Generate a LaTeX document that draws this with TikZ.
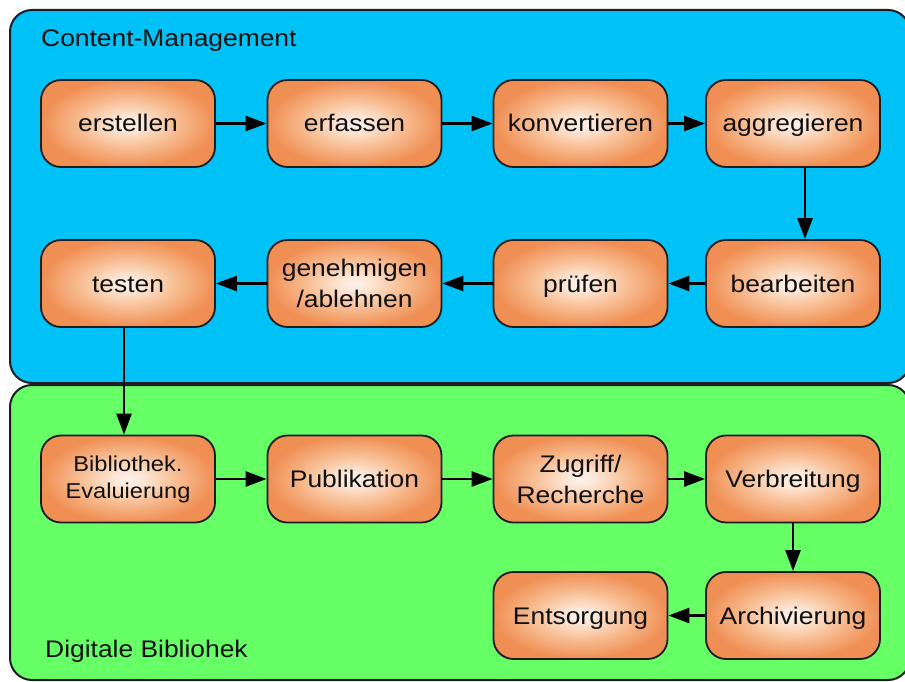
\documentclass[tikz,border=0pt]{standalone}
\usepackage{fontspec}
\setmainfont{Liberation Sans}[FakeStretch=1.1]
\usetikzlibrary{arrows.meta}

\definecolor{cmblue}{RGB}{0,194,246}
\definecolor{dlgreen}{RGB}{102,255,102}
\definecolor{edge}{RGB}{28,28,36}
\definecolor{ink}{RGB}{16,16,16}

% soft orange glow, light in the middle of each step box
\pgfdeclareradialshading{boxglow}{\pgfpoint{0bp}{0bp}}{%
  rgb(0bp)=(0.99,0.95,0.92);
  rgb(4bp)=(0.99,0.91,0.85);
  rgb(14bp)=(0.97,0.74,0.57);
  rgb(25bp)=(0.94,0.56,0.33);
  rgb(50bp)=(0.94,0.56,0.33)}

\tikzset{
  panel/.style={draw=edge, line width=2pt, rounded corners=22pt},
  paneltitle/.style={anchor=base west, inner sep=0pt, text=ink,
    font=\fontsize{24}{28}\selectfont},
  stepbox/.style={draw=edge, line width=1.8pt, rounded corners=20pt,
    shading=boxglow, minimum width=174pt, minimum height=87pt,
    inner sep=0pt, align=center, text=ink,
    font=\fontsize{24}{31}\selectfont},
  oneline/.style={stepbox, text height=17pt, text depth=0pt},
  flow/.style={draw=black, line width=2.6pt,
    -{Triangle[length=21pt,width=15pt]}},
}

\begin{document}
\begin{tikzpicture}[x=1pt, y=-1pt]
  \useasboundingbox (0,0) rectangle (905,682);
  \fill[white] (0,0) rectangle (905,682);

  % the two areas
  \draw[panel, fill=cmblue] (10,10) rectangle (910,383);
  \draw[panel, fill=dlgreen] (10,385) rectangle (910,680);
  \node[paneltitle] (cmtitle) at (41,47) {Content-Management};
  \node[paneltitle] (dltitle) at (45,657) {Digitale Bibliohek};

  % content management steps
  \node[oneline] (erst) at (128,123.5) {erstellen};
  \node[oneline] (erf)  at (354.5,123.5) {erfassen};
  \node[oneline] (konv) at (580.5,123.5) {konvertieren};
  \node[oneline] (aggr) at (793,123.5) {aggregieren};
  \node[oneline] (bear) at (793,283.5) {bearbeiten};
  \node[oneline] (pruef) at (580.5,283.5) {prüfen};
  \node[stepbox] (gen)  at (354.5,283.5) {genehmigen\\/ablehnen};
  \node[oneline] (test) at (128,283.5) {testen};

  % digital library steps
  \node[stepbox, font=\fontsize{21.5}{27}\selectfont] (bib) at (128,479)
    {Bibliothek.\\Evaluierung};
  \node[oneline] (pub)  at (354.5,479) {Publikation};
  \node[stepbox] (zug)  at (580.5,479) {Zugriff/\\Recherche};
  \node[oneline] (verb) at (793,479) {Verbreitung};
  \node[oneline] (arch) at (793,615.5) {Archivierung};
  \node[oneline] (ents) at (580.5,615.5) {Entsorgung};

  % flow
  \draw[flow] (erst) -- (erf);
  \draw[flow] (erf) -- (konv);
  \draw[flow] (konv) -- (aggr);
  \draw[flow] ([xshift=12pt]aggr.south) -- ([xshift=12pt]bear.north);
  \draw[flow] (bear) -- (pruef);
  \draw[flow] (pruef) -- (gen);
  \draw[flow] (gen) -- (test);
  \draw[flow] ([xshift=-4pt]test.south) -- ([xshift=-4pt]bib.north);
  \draw[flow] (bib) -- (pub);
  \draw[flow] (pub) -- (zug);
  \draw[flow] (zug) -- (verb);
  \draw[flow] (verb) -- (arch);
  \draw[flow] (arch) -- (ents);
\end{tikzpicture}
\end{document}
